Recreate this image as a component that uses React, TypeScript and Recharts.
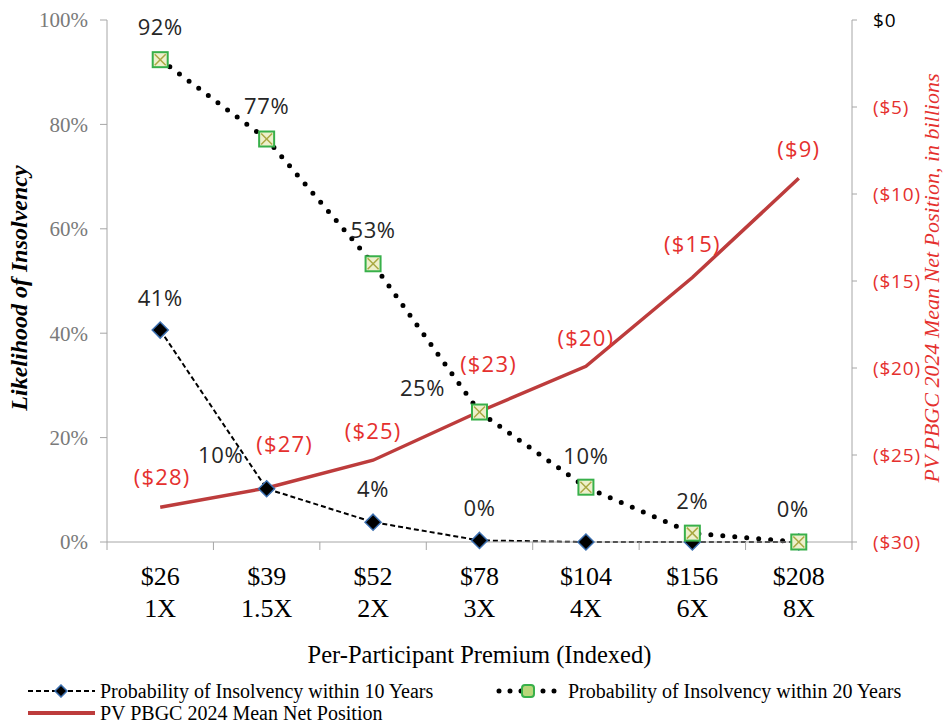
import React from "react";
import { LineChart, Line, XAxis, YAxis, LabelList } from "recharts";

const premiums = ["$26", "$39", "$52", "$78", "$104", "$156", "$208"];
const multiples = ["1X", "1.5X", "2X", "3X", "4X", "6X", "8X"];
const insolvency10 = [40.6, 10.2, 3.8, 0.3, 0, 0, 0];
const insolvency20 = [92.4, 77.2, 53.3, 24.9, 10.5, 1.7, 0];
const netPosition = [-28.0, -26.9, -25.3, -22.5, -19.9, -14.8, -9.1];
const labels10 = ["41%", "10%", "4%", "0%", "", "", ""];
const labels20 = ["92%", "77%", "53%", "25%", "10%", "2%", "0%"];
const labelsNet = ["($28)", "($27)", "($25)", "($23)", "($20)", "($15)", "($9)"];
const pctTicks = [0, 20, 40, 60, 80, 100];
const netTicks = [-30, -25, -20, -15, -10, -5, 0];

// label nudges (dx, dy) from the point
const shift10 = [[0, -33], [-46, -35], [0, -34], [0, -33]];
const shift20 = [[0, -34], [0, -34], [0, -35], [-57, -25], [0, -32], [0, -33], [-6, -34]];
const shiftNet = [[2, -31], [18, -45], [0, -30], [9, -49], [0, -29], [0, -35], [0, -30]];

const data = premiums.map((p, i) => ({
  premium: p,
  p10: insolvency10[i],
  p20: insolvency20[i],
  net: netPosition[i],
}));

const W = 943;
const H = 725;
const LEFT = 107;
const RIGHT = 852;
const TOP = 20;
const BOTTOM = 542;
const HALF_BAND = (RIGHT - LEFT) / premiums.length / 2;

const RED = "#e5302e";
const SERIF = "'Liberation Serif', 'Times New Roman', serif";
const SANS = "'Open Sans', Lato, sans-serif";

const makeLabel = (texts: string[], shifts: number[][], color: string, size: number, spacing: number) => (props: any) => {
  const { x, y, index } = props;
  const t = texts[index];
  if (!t) return null;
  const s = shifts[index] || [0, -34];
  return (
    <text
      x={x + s[0]}
      y={y + s[1]}
      textAnchor="middle"
      dominantBaseline="central"
      fontFamily={SANS}
      fontSize={size}
      letterSpacing={spacing}
      fill={color}
    >
      {t}
    </text>
  );
};

const Diamond = (props: any) => {
  const { cx, cy, index } = props;
  const r = 8;
  return (
    <polygon
      key={`d${index}`}
      points={`${cx},${cy - r} ${cx + r},${cy} ${cx},${cy + r} ${cx - r},${cy}`}
      fill="#000"
      stroke="#3b6fb0"
      strokeWidth={1.5}
    />
  );
};

const BoxX = (props: any) => {
  const { cx, cy, index } = props;
  const r = 7.5;
  return (
    <g key={`b${index}`}>
      <rect x={cx - r} y={cy - r} width={2 * r} height={2 * r} fill="#eef0cc" stroke="#38b04a" strokeWidth={2} />
      <line x1={cx - r + 2} y1={cy - r + 2} x2={cx + r - 2} y2={cy + r - 2} stroke="#a9a843" strokeWidth={1.5} />
      <line x1={cx - r + 2} y1={cy + r - 2} x2={cx + r - 2} y2={cy - r + 2} stroke="#a9a843" strokeWidth={1.5} />
    </g>
  );
};

const XTick = (props: any) => {
  const { x, y, payload, index } = props;
  return (
    <g>
      <line x1={x - HALF_BAND} y1={y} x2={x - HALF_BAND} y2={y + 8} stroke="#a6a6a6" />
      {index === premiums.length - 1 && (
        <line x1={x + HALF_BAND} y1={y} x2={x + HALF_BAND} y2={y + 8} stroke="#a6a6a6" />
      )}
      <text x={x} y={y + 43} textAnchor="middle" fontFamily={SERIF} fontSize={26} fill="#000">
        {payload.value}
      </text>
      <text x={x} y={y + 75} textAnchor="middle" fontFamily={SERIF} fontSize={26} fill="#000">
        {multiples[index]}
      </text>
    </g>
  );
};

const RightTick = (props: any) => {
  const { x, y, payload } = props;
  const v = payload.value;
  return (
    <text
      x={x}
      y={y}
      dominantBaseline="central"
      fontFamily={SANS}
      fontSize={19}
      letterSpacing={0.8}
      fill={v === 0 ? "#000" : RED}
    >
      {v === 0 ? "$0" : `($${-v})`}
    </text>
  );
};

const LegendSample = ({ kind }: { kind: string }) => (
  <svg width={67} height={14} style={{ display: "block", marginRight: 5, flex: "none" }}>
    {kind === "p10" && (
      <>
        <line x1={0} y1={7} x2={67} y2={7} stroke="#000" strokeWidth={2} strokeDasharray="5 3" />
        <polygon points="33,1 39,7 33,13 27,7" fill="#000" stroke="#3b6fb0" strokeWidth={1.5} />
      </>
    )}
    {kind === "p20" && (
      <>
        <line x1={3} y1={7} x2={66} y2={7} stroke="#000" strokeWidth={5} strokeDasharray="0 11" strokeLinecap="round" />
        <rect x={26} y={1} width={12} height={12} rx={3} fill="#b9d77a" stroke="#38b04a" strokeWidth={2} />
      </>
    )}
    {kind === "net" && <line x1={0} y1={7} x2={67} y2={7} stroke="#bd3c3c" strokeWidth={4} />}
  </svg>
);

const legendItem = (left: number, top: number): React.CSSProperties => ({
  position: "absolute",
  left,
  top,
  height: 22,
  display: "flex",
  alignItems: "center",
  whiteSpace: "nowrap",
  fontFamily: SERIF,
  fontSize: 20,
  lineHeight: "22px",
  color: "#000",
});

export default function App() {
  return (
    <div style={{ position: "relative", width: W, height: H, background: "#fff", overflow: "hidden" }}>
      <style>{"body{margin:0}"}</style>
      <LineChart width={W} height={H} data={data} margin={{ top: TOP, right: 0, bottom: 0, left: 0 }}>
        <XAxis
          dataKey="premium"
          xAxisId="x"
          height={H - BOTTOM}
          padding={{ left: HALF_BAND, right: HALF_BAND }}
          axisLine={{ stroke: "#a6a6a6" }}
          tickLine={false}
          tickSize={0}
          tickMargin={0}
          interval={0}
          tick={<XTick />}
          label={() => (
            <text x={(LEFT + RIGHT) / 2} y={663} textAnchor="middle" fontFamily={SERIF} fontSize={24.5} fill="#000">
              Per-Participant Premium (Indexed)
            </text>
          )}
        />
        <YAxis
          yAxisId="pct"
          orientation="left"
          width={LEFT}
          domain={[0, 100]}
          ticks={pctTicks}
          tickFormatter={(v: number) => `${v}%`}
          axisLine={{ stroke: "#a6a6a6" }}
          tickLine={{ stroke: "#a6a6a6" }}
          tickSize={7}
          tickMargin={12}
          tick={{ fontFamily: SERIF, fontSize: 21, fill: "#7a7a7a" }}
          label={() => (
            <text
              x={27}
              y={288}
              transform="rotate(-90 27 288)"
              textAnchor="middle"
              fontFamily={SERIF}
              fontSize={24}
              fontWeight="bold"
              fontStyle="italic"
              fill="#000"
            >
              Likelihood of Insolvency
            </text>
          )}
        />
        <YAxis
          yAxisId="net"
          orientation="right"
          width={W - RIGHT}
          domain={[-30, 0]}
          ticks={netTicks}
          axisLine={{ stroke: "#a6a6a6" }}
          tickLine={{ stroke: "#a6a6a6" }}
          tickSize={5}
          tickMargin={16}
          tick={<RightTick />}
          label={() => (
            <text
              x={939}
              y={278}
              transform="rotate(-90 939 278)"
              textAnchor="middle"
              fontFamily={SERIF}
              fontSize={22}
              fontStyle="italic"
              fill={RED}
            >
              PV PBGC 2024 Mean Net Position, in billions
            </text>
          )}
        />
        <Line
          xAxisId="x"
          yAxisId="net"
          dataKey="net"
          stroke="#bd3c3c"
          strokeWidth={3.5}
          dot={false}
          isAnimationActive={false}
        >
          <LabelList dataKey="net" content={makeLabel(labelsNet, shiftNet, RED, 22, 1.2)} />
        </Line>
        <Line
          xAxisId="x"
          yAxisId="pct"
          dataKey="p10"
          stroke="#000"
          strokeWidth={2}
          strokeDasharray="5 3"
          dot={<Diamond />}
          isAnimationActive={false}
        >
          <LabelList dataKey="p10" content={makeLabel(labels10, shift10, "#262626", 22, 0.6)} />
        </Line>
        <Line
          xAxisId="x"
          yAxisId="pct"
          dataKey="p20"
          stroke="#000"
          strokeWidth={5}
          strokeDasharray="0 12"
          strokeLinecap="round"
          dot={<BoxX />}
          isAnimationActive={false}
        >
          <LabelList dataKey="p20" content={makeLabel(labels20, shift20, "#262626", 22, 0.6)} />
        </Line>
      </LineChart>
      <div style={legendItem(28, 680)}>
        <LegendSample kind="p10" />
        Probability of Insolvency within 10 Years
      </div>
      <div style={legendItem(496, 680)}>
        <LegendSample kind="p20" />
        Probability of Insolvency within 20 Years
      </div>
      <div style={legendItem(28, 702)}>
        <LegendSample kind="net" />
        PV PBGC 2024 Mean Net Position
      </div>
    </div>
  );
}
